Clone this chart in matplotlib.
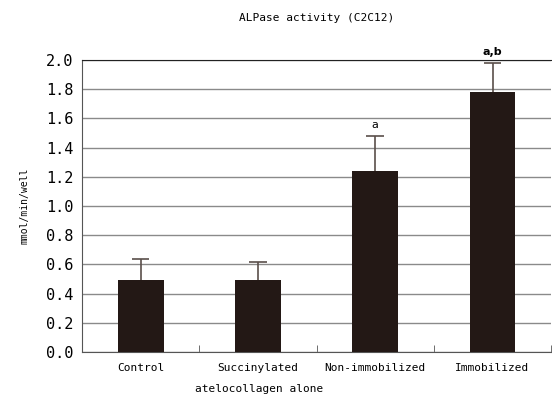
import matplotlib.pyplot as plt
import numpy as np

categories = ['Control', 'Succinylated', 'Non-immobilized', 'Immobilized']
values = [0.49, 0.49, 1.24, 1.78]
errors = [0.15, 0.13, 0.24, 0.20]
marks = ['', '', 'a', 'a,b']
yticks = [0.0, 0.2, 0.4, 0.6, 0.8, 1.0, 1.2, 1.4, 1.6, 1.8, 2.0]

plt.rcParams['font.family'] = ['DejaVu Sans Mono']

fig = plt.figure(figsize=(5.52, 3.98), dpi=100)
ax = fig.add_axes([0.1486, 0.1156, 0.85, 0.7334])

x = np.arange(len(categories))
vals = np.array(values)
errs = np.array(errors)
ax.bar(x, vals, width=0.39, color='#231815', zorder=3)
# upper error bars only
ax.vlines(x, vals, vals + errs, color='#5a4f4a', linewidth=1.2, zorder=2)
ax.hlines(vals + errs, x - 0.075, x + 0.075, color='#5a4f4a', linewidth=1.2, zorder=2)

for xi, v, e, m in zip(x, vals, errs, marks):
    if m:
        ax.text(xi, v + e + 0.04, m, ha='center', va='bottom', fontsize=8,
                fontweight='bold' if ',' in m else 'normal', family='DejaVu Sans')

ax.set_xlim(-0.5, 3.5)
ax.set_ylim(0, 2.0)
ax.set_yticks(yticks)
ax.set_yticklabels([f'{t:.1f}' for t in yticks], fontsize=11)
ax.tick_params(axis='y', length=0, pad=6)
ax.yaxis.grid(True, color='#8a8a8a', linewidth=1.0, zorder=0)

ax.set_xticks(x)
ax.set_xticklabels(categories, fontsize=8)
ax.tick_params(axis='x', length=0, pad=8)
ax.set_xticks([0.5, 1.5, 2.5, 3.5], minor=True)
ax.tick_params(axis='x', which='minor', direction='in', length=5, color='#555555')

for s in ['left', 'bottom']:
    ax.spines[s].set_color('#555555')
ax.spines['top'].set_color('#222222')
ax.spines['right'].set_visible(False)

ax.set_ylabel('mmol/min/well', fontsize=7, labelpad=12)
ax.set_title('ALPase activity (C2C12)', fontsize=8, pad=28)
fig.text(0.47, 0.022, 'atelocollagen alone', ha='center', va='center', fontsize=8)

fig.savefig('out.png', dpi=100)
